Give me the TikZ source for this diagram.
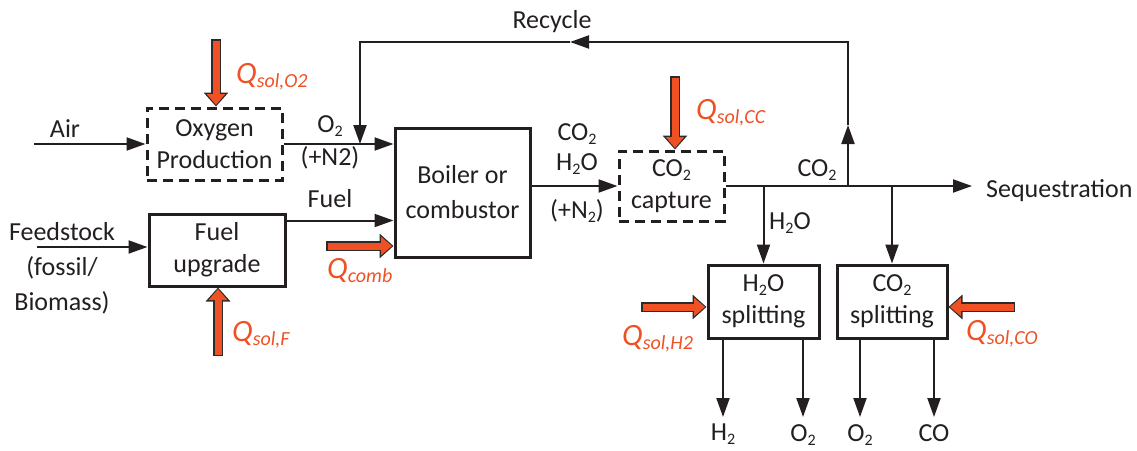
\documentclass[tikz,border=0pt]{standalone}
\usepackage{fontspec}
\setmainfont{Carlito}
\usetikzlibrary{arrows.meta,positioning,calc}
\definecolor{ink}{HTML}{231F20}
\definecolor{solar}{HTML}{EF5124}
\definecolor{rim}{HTML}{2B2B2B}
\newcommand{\idx}[1]{\raisebox{-4pt}{\fontsize{16}{16}\selectfont #1}}
\newcommand{\qheat}[1]{{\fontsize{31}{31}\selectfont\itshape Q\raisebox{-4pt}{\fontsize{20}{20}\selectfont #1}}}
\tikzset{unit/.style={draw=ink,line width=3pt,align=center,inner sep=0pt,
  text=ink,font=\fontsize{26}{32}\selectfont},
  capt/.style={unit,dash pattern=on 10pt off 6pt},
  flow/.style={-{Triangle[length=19pt,width=13pt]},line width=2pt,draw=ink},
  lbl/.style={font=\fontsize{26}{32}\selectfont,text=ink,inner sep=0pt},
  qlbl/.style={text=solar,inner sep=0pt,anchor=base west},
  heatrim/.style={line width=10pt,draw=rim,-{Triangle[length=14pt,width=24pt]}},
  heatcore/.style={line width=7pt,draw=solar,shorten <=1.5pt,shorten >=1.5pt,
  -{Triangle[length=11pt,width=18pt]}}}
\newcommand{\heat}[2]{\draw[heatrim] (#1) -- (#2); \draw[heatcore] (#1) -- (#2);}

\begin{document}
\begin{tikzpicture}[x=1pt,y=-1pt]
\useasboundingbox (0,0) rectangle (1137,450);
% units
\node[capt,minimum width=135pt,minimum height=72pt] (oxy) at (214.5,144) {Oxygen\\Production};
\node[unit,minimum width=136pt,minimum height=72pt] (upg) at (217,250) {Fuel\\upgrade};
\node[unit,minimum width=135pt,minimum height=129pt,font=\fontsize{26}{35}\selectfont] (boil) at (462.5,192.5) {Boiler or\\combustor};
\node[capt,minimum width=105pt,minimum height=70pt] (cap) at (671.5,186) {CO\idx{2}\\capture};
\node[unit,minimum width=111pt,minimum height=73pt] (h2os) at (763.5,301.5) {H\idx{2}O\\splitting};
\node[unit,minimum width=110pt,minimum height=73pt] (co2s) at (892,301.5) {CO\idx{2}\\splitting};

% feeds
\coordinate (air) at (34,144);
\draw[flow] (air) -- (oxy.west);
\node[lbl] (airlbl) at (65,129) {Air};
\coordinate (feed) at (37,247);
\draw[flow] (feed) -- (feed -| upg.west);
\node[lbl,align=center,font=\fontsize{26}{35}\selectfont] (feedlbl) at (62,268) {Feedstock\\(fossil/\\Biomass)};

\draw[flow] (oxy.east) -- (oxy.east -| boil.west);
\node[lbl] (o2lbl) at (330,126) {O\idx{2}};
\node[lbl] (n2lbl) at (330,158) {(+N2)};
\coordinate (fuelout) at ($(upg.north east)+(0,8)$);
\draw[flow] (fuelout) -- (fuelout -| boil.west);
\node[lbl] (fuellbl) at (330,199) {Fuel};

% flue gas
\draw[flow] (cap.west -| boil.east) -- (cap.west);
\node[lbl] (fco2) at (577,134) {CO\idx{2}};
\node[lbl] (fh2o) at (577,164) {H\idx{2}O};
\node[lbl] (fn2) at (577,211) {(+N\idx{2})};

\node[lbl,anchor=west,inner xsep=14pt] (seq) at (972,191) {Sequestration};
\draw[flow] (cap.east) -- (cap.east -| seq.west);
\node[lbl] (sco2) at (817,170) {CO\idx{2}};

% recycle loop
\coordinate (rj) at (848,186);
\coordinate (rup) at (848,125);
\coordinate (rtop) at (848,42);
\coordinate (rleft) at (570,42);
\coordinate (rcorner) at (360,42);
\draw[flow] (rj) -- (rup);
\draw[flow] (rup) -- (rtop) -- (rleft);
\draw[flow] (rleft) -- (rcorner) -- (rcorner |- oxy.east);
\node[lbl] (reclbl) at (552,22) {Recycle};

% splitting
\draw[flow] (h2os.north |- cap.east) -- (h2os.north);
\draw[flow] (co2s.north |- cap.east) -- (co2s.north);
\node[lbl] (bh2o) at (790,223) {H\idx{2}O};

\node[lbl,anchor=north,inner ysep=7pt] (ph2) at (723,417) {H\idx{2}};
\node[lbl,anchor=north,inner ysep=7pt] (po2a) at (803,417) {O\idx{2}};
\node[lbl,anchor=north,inner ysep=7pt] (po2b) at (860,417) {O\idx{2}};
\node[lbl,anchor=north,inner ysep=7pt] (pco) at (934,417) {CO};
\draw[flow] (h2os.south -| ph2) -- (ph2);
\draw[flow] (h2os.south -| po2a) -- (po2a);
\draw[flow] (co2s.south -| po2b) -- (po2b);
\draw[flow] (co2s.south -| pco) -- (pco);

% solar heat
\coordinate (qo2) at (216,39);
\coordinate (qcc) at (675,76);
\coordinate (qcomb) at (326,246);
\coordinate (qf) at (218,356);
\coordinate (qh2) at (641,307);
\coordinate (qco) at (1015,307);
\heat{qo2}{qo2 |- oxy.north}
\heat{qcc}{qcc |- cap.north}
\heat{qcomb}{qcomb -| boil.west}
\heat{qf}{qf |- upg.south}
\heat{qh2}{qh2 -| h2os.west}
\heat{qco}{qco -| co2s.east}
\node[qlbl] (lo2) at (236,83) {\qheat{sol,O2}};
\node[qlbl] (lcc) at (696,119) {\qheat{sol,CC}};
\node[qlbl] (lcomb) at (327,278) {\qheat{comb}};
\node[qlbl] (lf) at (232,341) {\qheat{sol,F}};
\node[qlbl] (lh2) at (622,345) {\qheat{sol,H2}};
\node[qlbl] (lco) at (966,340) {\qheat{sol,CO}};
\end{tikzpicture}
\end{document}
